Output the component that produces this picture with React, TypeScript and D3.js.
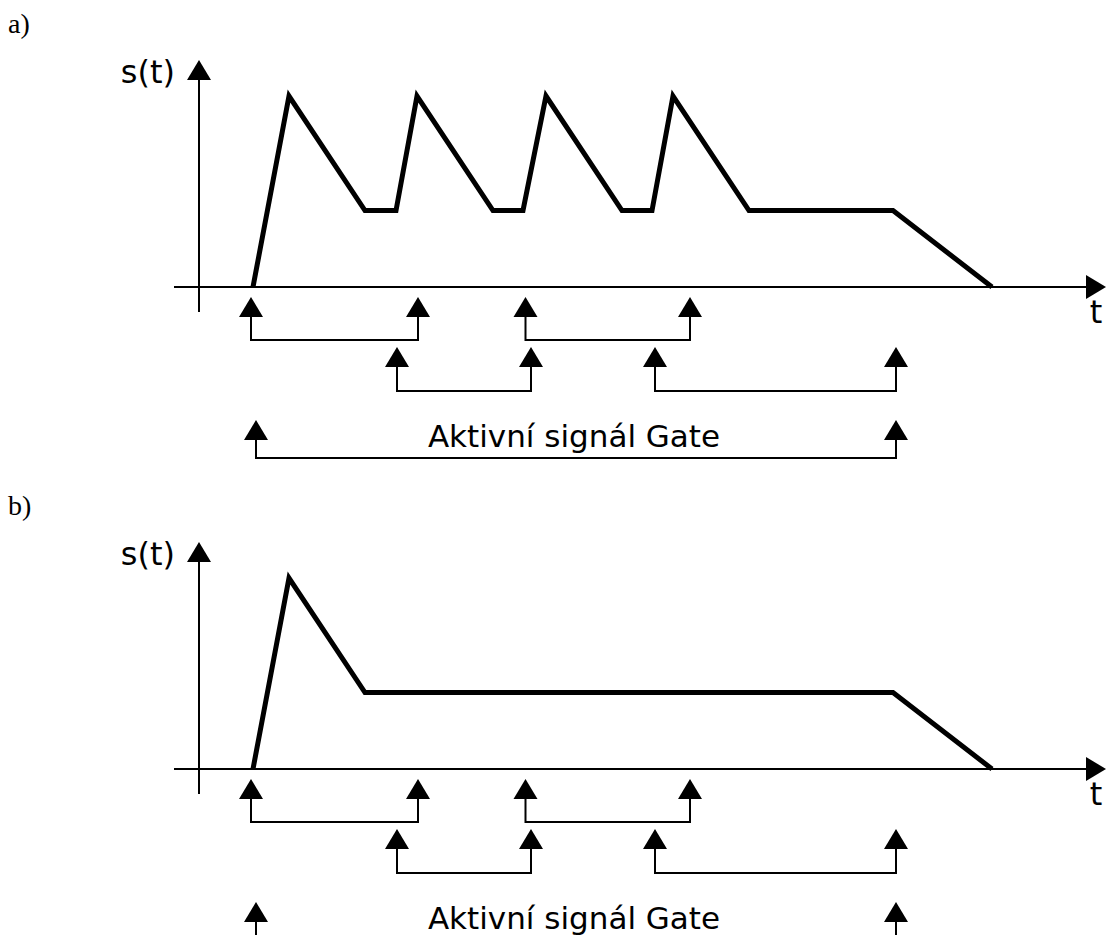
import React from "react";
import * as d3 from "d3";

// Time positions (arbitrary units) and signal levels (relative to peak)
const timesA = [5.4, 9.0, 16.6, 19.7, 21.8, 29.4, 32.4, 34.7, 42.3, 45.3, 47.4, 55.0, 69.4, 79.3];
const levelsA = [0, 1, 0.4, 0.4, 1, 0.4, 0.4, 1, 0.4, 0.4, 1, 0.4, 0.4, 0];
const timesB = [5.4, 9.0, 16.6, 69.4, 79.3];
const levelsB = [0, 1, 0.4, 0.4, 0];

// Gate brackets: [start, end, row]
const gateStart = [5.2, 32.65, 19.8, 45.6, 5.7];
const gateEnd = [21.9, 49.1, 33.2, 69.7, 69.7];
const gateRow = [0, 0, 1, 1, 2];

const panelLabels = ["a)", "b)"];
const gateText = "Aktivní signál Gate";

const W = 1107;
const H = 935;
const AXIS_X = 199;
const AXIS_Y0 = 287;
const PANEL_OFFSET = 482;

const x = d3.scaleLinear().domain([0, 100]).range([AXIS_X, AXIS_X + 1000]);
const y = d3.scaleLinear().domain([0, 1]).range([0, -191]);

// Row geometry (relative to x-axis)
const rowTip = [10, 60, 133];
const rowBottom = [53, 104, 171];
const ARROW_H = 20;
const ARROW_HW = 12;

function upArrow(cx: number, tipY: number) {
  return `M${cx},${tipY} L${cx + ARROW_HW},${tipY + ARROW_H} L${cx - ARROW_HW},${tipY + ARROW_H} Z`;
}

function Panel({ offset, times, levels, label }: { offset: number; times: number[]; levels: number[]; label: string }) {
  const y0 = AXIS_Y0 + offset;
  const line = d3
    .line<number>()
    .x((_, i) => x(times[i]))
    .y((_, i) => y0 + y(levels[i]));
  const sans = "'DejaVu Sans', Verdana, sans-serif";
  return (
    <g>
      <text x={8} y={33 + offset} fontFamily="'Liberation Serif', 'Times New Roman', serif" fontSize={28} fill="#000">
        {label}
      </text>
      {/* y axis */}
      <line x1={AXIS_X} x2={AXIS_X} y1={y0 - 207} y2={y0 + 25} stroke="#000" strokeWidth={2} />
      <path d={upArrow(AXIS_X, y0 - 227)} fill="#000" />
      <text x={175} y={y0 - 204} textAnchor="end" fontFamily={sans} fontSize={32} fill="#000">
        s(t)
      </text>
      {/* x axis */}
      <line x1={174} x2={1088} y1={y0} y2={y0} stroke="#000" strokeWidth={2} />
      <path d={`M1106,${y0} L1086,${y0 - 12} L1086,${y0 + 12} Z`} fill="#000" />
      <text x={1096} y={y0 + 36} textAnchor="middle" fontFamily={sans} fontSize={32} fill="#000">
        t
      </text>
      {/* signal */}
      <path d={line(times) || ""} fill="none" stroke="#000" strokeWidth={5} strokeLinejoin="miter" />
      {/* gate brackets */}
      {gateStart.map((s, i) => {
        const r = gateRow[i];
        const e = gateEnd[i];
        const tip = y0 + rowTip[r];
        const bot = y0 + rowBottom[r];
        const xs = x(s);
        const xe = x(e);
        return (
          <g key={i}>
            <path
              d={`M${xs},${tip + ARROW_H - 1} L${xs},${bot} L${xe},${bot} L${xe},${tip + ARROW_H - 1}`}
              fill="none"
              stroke="#000"
              strokeWidth={2}
            />
            <path d={upArrow(xs, tip)} fill="#000" />
            <path d={upArrow(xe, tip)} fill="#000" />
          </g>
        );
      })}
      <text x={574} y={y0 + 160} textAnchor="middle" fontFamily={sans} fontSize={31} fill="#000">
        {gateText}
      </text>
    </g>
  );
}

export default function App() {
  return (
    <svg
      width={W}
      height={H}
      viewBox={`0 0 ${W} ${H}`}
      style={{ position: "absolute", left: 0, top: 0, background: "#fff" }}
    >
      <rect width={W} height={H} fill="#fff" />
      <Panel offset={0} times={timesA} levels={levelsA} label={panelLabels[0]} />
      <Panel offset={PANEL_OFFSET} times={timesB} levels={levelsB} label={panelLabels[1]} />
    </svg>
  );
}
